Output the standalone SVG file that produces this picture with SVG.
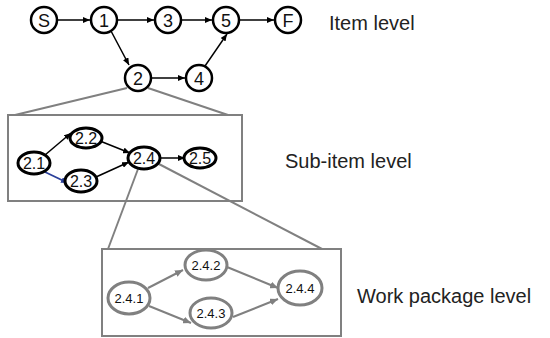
<svg xmlns="http://www.w3.org/2000/svg" width="550" height="338" viewBox="0 0 550 338">
<style>
.top{fill:#fff;stroke:#000;stroke-width:2.5}
.sub{fill:#fff;stroke:#000;stroke-width:3}
.wp{fill:#fff;stroke:#808080;stroke-width:3}
.t{font-family:"Liberation Sans",Arial,sans-serif;fill:#111;text-anchor:middle}
.lbl{font-family:"Liberation Sans",Arial,sans-serif;fill:#222;font-size:20px}
.box{fill:none;stroke:#808080;stroke-width:2}
.gl{stroke:#808080;stroke-width:2;fill:none}
.e{stroke:#000;stroke-width:1.5;fill:none;marker-end:url(#ab)}
.eb{stroke:#2a3f9a;stroke-width:1.8;fill:none;marker-end:url(#abl)}
.eg{stroke:#808080;stroke-width:2;fill:none;marker-end:url(#ag)}
</style>
<defs>
<marker id="ab" markerUnits="userSpaceOnUse" markerWidth="8" markerHeight="6" refX="7" refY="3" orient="auto"><path d="M0,0 L7,3 L0,6 Z" fill="#000"/></marker>
<marker id="abl" markerUnits="userSpaceOnUse" markerWidth="8" markerHeight="6" refX="7" refY="3" orient="auto"><path d="M0,0 L7,3 L0,6 Z" fill="#2a3f9a"/></marker>
<marker id="ag" markerUnits="userSpaceOnUse" markerWidth="9" markerHeight="7" refX="8" refY="3.5" orient="auto"><path d="M0,0 L8,3.5 L0,7 Z" fill="#808080"/></marker>
</defs>

<g id="frames">
<rect class="box" x="8" y="115" width="234" height="86"/>
<rect class="box" x="102" y="249" width="239" height="87"/>
<line class="gl" x1="127" y1="88" x2="15" y2="115"/>
<line class="gl" x1="148" y1="88" x2="228" y2="115"/>
<line class="gl" x1="138" y1="169" x2="108" y2="249"/>
<line class="gl" x1="157" y1="163" x2="322" y2="249"/>
</g>

<g id="connectors">
<line class="e" x1="57" y1="20" x2="90" y2="20"/>
<line class="e" x1="117" y1="20" x2="154" y2="20"/>
<line class="e" x1="181" y1="20" x2="212" y2="20"/>
<line class="e" x1="239" y1="20" x2="274" y2="20"/>
<line class="e" x1="111" y1="31" x2="129" y2="65"/>
<line class="e" x1="151" y1="78" x2="185" y2="78"/>
<line class="e" x1="205" y1="66" x2="227" y2="34"/>
<line class="e" x1="45" y1="155" x2="71" y2="133"/>
<line class="eb" x1="45" y1="172" x2="68" y2="183"/>
<line class="e" x1="100" y1="141" x2="130" y2="153"/>
<line class="e" x1="96" y1="177" x2="129" y2="162"/>
<line class="e" x1="160" y1="158" x2="185" y2="158"/>
<line class="eg" x1="148" y1="288" x2="183" y2="270"/>
<line class="eg" x1="149" y1="306" x2="191" y2="323"/>
<line class="eg" x1="227" y1="267" x2="278" y2="288"/>
<line class="eg" x1="233" y1="317" x2="278" y2="299"/>
</g>

<g id="n-S"><circle class="top" cx="44" cy="20" r="13"/><text class="t" x="44" y="26.5" font-size="18">S</text></g>
<g id="n-1"><circle class="top" cx="104" cy="20" r="13"/><text class="t" x="104" y="26.5" font-size="18">1</text></g>
<g id="n-3"><circle class="top" cx="168" cy="20" r="13"/><text class="t" x="168" y="26.5" font-size="18">3</text></g>
<g id="n-5"><circle class="top" cx="226" cy="20" r="13"/><text class="t" x="226" y="26.5" font-size="18">5</text></g>
<g id="n-F"><circle class="top" cx="288" cy="20" r="13"/><text class="t" x="288" y="26.5" font-size="18">F</text></g>
<g id="n-2"><circle class="top" cx="138" cy="78" r="13"/><text class="t" x="138" y="84.5" font-size="18">2</text></g>
<g id="n-4"><circle class="top" cx="199" cy="78" r="13"/><text class="t" x="199" y="84.5" font-size="18">4</text></g>

<g id="n-2-1"><ellipse class="sub" cx="34" cy="163" rx="16" ry="11"/><text class="t" x="34" y="169" font-size="16">2.1</text></g>
<g id="n-2-2"><ellipse class="sub" cx="86" cy="138" rx="16" ry="10"/><text class="t" x="86" y="144" font-size="16">2.2</text></g>
<g id="n-2-3"><ellipse class="sub" cx="81" cy="181" rx="16" ry="11"/><text class="t" x="81" y="187" font-size="16">2.3</text></g>
<g id="n-2-4"><ellipse class="sub" cx="144" cy="158" rx="16" ry="11"/><text class="t" x="144" y="164" font-size="16">2.4</text></g>
<g id="n-2-5"><ellipse class="sub" cx="200" cy="158" rx="16" ry="10"/><text class="t" x="200" y="164" font-size="16">2.5</text></g>

<g id="n-2-4-1"><ellipse class="wp" cx="129" cy="298" rx="21" ry="16"/><text class="t" x="129" y="303" font-size="13">2.4.1</text></g>
<g id="n-2-4-2"><ellipse class="wp" cx="206" cy="265" rx="21" ry="15"/><text class="t" x="206" y="270" font-size="13">2.4.2</text></g>
<g id="n-2-4-3"><ellipse class="wp" cx="211" cy="313" rx="21" ry="15"/><text class="t" x="211" y="318" font-size="13">2.4.3</text></g>
<g id="n-2-4-4"><ellipse class="wp" cx="300" cy="288" rx="22" ry="17"/><text class="t" x="300" y="293" font-size="13">2.4.4</text></g>

<g id="labels">
<text class="lbl" x="329" y="30">Item level</text>
<text class="lbl" x="285" y="168">Sub-item level</text>
<text class="lbl" x="357" y="303">Work package level</text>
</g>
</svg>
